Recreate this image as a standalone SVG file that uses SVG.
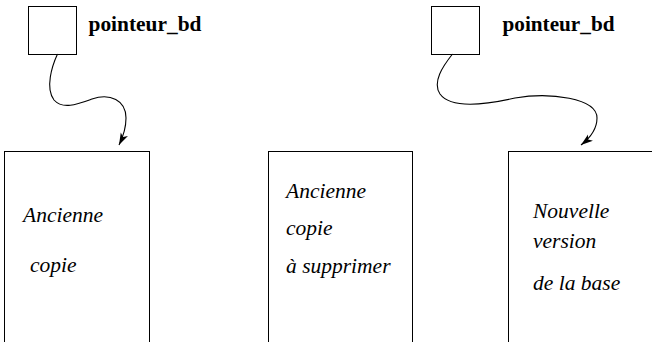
<svg xmlns="http://www.w3.org/2000/svg" width="652" height="342" viewBox="0 0 652 342">
<style>
.box{fill:#fff;stroke:#000;stroke-width:1}
.conn{fill:none;stroke:#000;stroke-width:1.1}
.lbl{font-family:"Liberation Serif","Times New Roman",serif;font-weight:bold;font-size:21.5px;fill:#000}
.it{font-family:"Liberation Serif","Times New Roman",serif;font-style:italic;font-size:21.5px;fill:#000}
</style>
<defs>
<marker id="arr" markerUnits="userSpaceOnUse" markerWidth="14" markerHeight="10" refX="12" refY="4" orient="auto">
<path d="M0,0 L12,4 L0,8 L3,4 z" fill="#000"/>
</marker>
</defs>
<rect width="652" height="342" fill="#fff"/>
<g id="ptr1">
<rect class="box" x="28.5" y="6.5" width="48" height="48"/>
<text class="lbl" x="88.5" y="31" textLength="113" lengthAdjust="spacingAndGlyphs">pointeur_bd</text>
</g>
<g id="ptr2">
<rect class="box" x="431.5" y="6.5" width="48" height="48"/>
<text class="lbl" x="502.5" y="31" textLength="112" lengthAdjust="spacingAndGlyphs">pointeur_bd</text>
</g>
<g id="copy1">
<rect class="box" x="4.5" y="151.5" width="145" height="200"/>
<text class="it" x="23" y="222">Ancienne</text>
<text class="it" x="30" y="272">copie</text>
</g>
<g id="copy2">
<rect class="box" x="268.5" y="151.5" width="144" height="200"/>
<text class="it" x="286" y="198">Ancienne</text>
<text class="it" x="286" y="235">copie</text>
<text class="it" x="286" y="273">à supprimer</text>
</g>
<g id="newbase">
<rect class="box" x="508.5" y="151.5" width="145" height="200"/>
<text class="it" x="533" y="218">Nouvelle</text>
<text class="it" x="533" y="248">version</text>
<text class="it" x="533" y="290">de la base</text>
</g>
<g id="connectors">
<path class="conn" marker-end="url(#arr)" d="M57.5,54 C52,66 45,88 54,100 C63,110 78,104 92,99 C110,93 126,100 126,118 C126,128 123,137 119,145"/>
<path class="conn" marker-end="url(#arr)" d="M452.5,54 C443,66 432,82 440,94 C450,108 480,106 515,98 C550,92 597,98 597,118 C597,130 590,138 581,145"/>
</g>
</svg>
